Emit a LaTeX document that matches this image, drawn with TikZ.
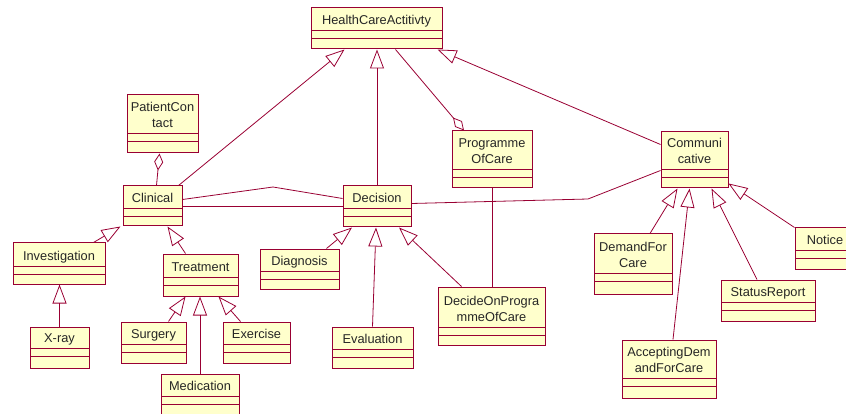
\documentclass[tikz,border=0pt]{standalone}
\usepackage{fontspec}
\setmainfont{Liberation Sans}
\usetikzlibrary{arrows.meta, fit}

\definecolor{umlborder}{HTML}{990033}
\definecolor{umlfill}{HTML}{FFFFCC}

\tikzset{
  classbox/.style={draw=umlborder, fill=umlfill, line width=1pt, inner sep=0pt},
  classname/.style={font=\fontsize{12.8}{16}\selectfont, align=center, inner sep=0pt, text=black!85},
  classline/.style={draw=umlborder, line width=0.8pt},
  assoc/.style={draw=umlborder, line width=0.8pt},
  gen/.style={assoc, -{Triangle[open, length=19pt, width=14pt]}},
  agg/.style={assoc, {Diamond[open, length=17pt, width=9pt]}-},
}

% name, x1, y1, x2, y2, bottom of name part, text
\newcommand{\umlclass}[7]{%
  \node[classbox, fit={(#2,#3) (#4,#5)}] (#1) {};
  \node[classname, anchor=south, text depth=0pt] at ({(#2+#4)/2},{#6-5}) {#7};
  \draw[classline] (#2,#6) -- (#4,#6) (#2,{#6+8}) -- (#4,{#6+8});
}

\begin{document}
\begin{tikzpicture}[x=1pt, y=-1pt]
\useasboundingbox (0,0) rectangle (846,414);

% HealthCareActitivty
      \umlclass{HCA}{311}{8}{442}{49}{30}{HealthCareActitivty}

% Clinical branch
      \umlclass{PatientContact}{127}{95}{198}{153}{133}{PatientCon\\tact}
      \umlclass{Clinical}{123}{186}{182}{226}{208}{Clinical}
      \umlclass{Investigation}{13}{243}{105}{284}{266}{Investigation}
      \umlclass{Xray}{30}{327}{89}{368}{348}{X-ray}
      \umlclass{Treatment}{163}{254}{238}{296}{277}{Treatment}
      \umlclass{Surgery}{121}{322}{186}{363}{344}{Surgery}
      \umlclass{Exercise}{223}{322}{290}{363}{344}{Exercise}
      \umlclass{Medication}{161}{374}{239}{424}{396}{Medication}

% Decision branch
      \umlclass{Decision}{343}{186}{411}{227}{208}{Decision}
      \umlclass{Diagnosis}{260}{249}{339}{289}{271}{Diagnosis}
      \umlclass{Evaluation}{332}{327}{413}{368}{349}{Evaluation}
      \umlclass{DecideOnPoC}{438}{287}{545}{345}{327}{DecideOnProgra\\mmeOfCare}
      \umlclass{PoC}{452}{131}{532}{188}{169}{Programme\\OfCare}

% Communicative branch
      \umlclass{Communicative}{661}{132}{728}{188}{169}{Communi\\cative}
      \umlclass{DemandForCare}{594}{234}{672}{294}{273}{DemandFor\\Care}
      \umlclass{AcceptingDFC}{622}{340}{716}{398}{378}{AcceptingDem\\andForCare}
      \umlclass{StatusReport}{721}{280}{815}{321}{302}{StatusReport}
      \umlclass{Notice}{795}{228}{855}{269}{250}{Notice}

% Generalizations to HealthCareActitivty
      \draw[gen] ([xshift=-4pt]Clinical.north east) -- ([xshift=-32pt]HCA.south);
      \draw[gen] (Decision.north) -- (Decision.north |- HCA.south);
      \draw[gen] ([yshift=-13pt]Communicative.north west) -- ([xshift=-5pt]HCA.south east);

% Aggregations
      \draw[agg] ([xshift=-28pt]PoC.north) -- ([xshift=19pt]HCA.south);
      \draw[agg] ([xshift=-3pt]PatientContact.south) -- ([xshift=4pt]Clinical.north);

% Associations
      \draw[assoc] ([yshift=-14pt]Clinical.north east) -- (273,187) -- ([yshift=-13pt]Decision.north west);
      \draw[assoc] ([yshift=-21pt]Clinical.north east) -- ([yshift=-21pt]Decision.north west);
      \draw[assoc] ([yshift=-18pt]Decision.north east) -- (588,199) -- ([yshift=-39pt]Communicative.north west);
      \draw[assoc] (PoC.south) -- (PoC.south |- DecideOnPoC.north);

% Clinical hierarchy
      \draw[gen] ([xshift=-12pt]Investigation.north east) -- ([xshift=-2pt]Clinical.south west);
      \draw[gen] ([xshift=-15pt]Treatment.north) -- ([xshift=15pt]Clinical.south);
      \draw[gen] (Xray.north) -- (Xray.north |- Investigation.south);
      \draw[gen] ([xshift=15pt]Surgery.north) -- ([xshift=-15pt]Treatment.south);
      \draw[gen] (Medication.north) -- (Medication.north |- Treatment.south);
      \draw[gen] ([xshift=-16pt]Exercise.north) -- ([xshift=18pt]Treatment.south);

% Decision hierarchy
      \draw[gen] ([xshift=27pt]Diagnosis.north) -- ([xshift=-25pt]Decision.south);
      \draw[gen] (Evaluation.north) -- ([xshift=-1pt]Decision.south);
      \draw[gen] ([xshift=-30pt]DecideOnPoC.north) -- ([xshift=22pt]Decision.south);

% Communicative hierarchy
      \draw[gen] ([xshift=17pt]DemandForCare.north) -- ([xshift=-17pt]Communicative.south);
      \draw[gen] ([xshift=4pt]AcceptingDFC.north) -- ([xshift=-5pt]Communicative.south);
      \draw[gen] ([xshift=-11pt]StatusReport.north) -- ([xshift=17pt]Communicative.south);
      \draw[gen] (Notice.north west) -- ([yshift=5pt]Communicative.south east);

\end{tikzpicture}
\end{document}
